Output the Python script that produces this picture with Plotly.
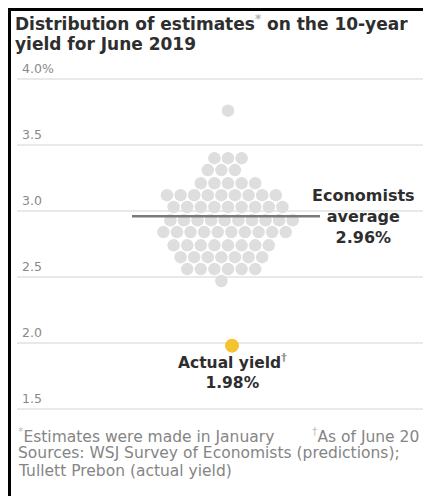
import plotly.graph_objects as go

# ---------------- data ----------------
estimates = [
    3.76,
    3.40, 3.40, 3.40,
    3.31, 3.31, 3.31,
    3.21, 3.21, 3.21, 3.21, 3.21,
    3.12, 3.12, 3.12, 3.12, 3.12, 3.12, 3.12, 3.12, 3.12,
    3.03, 3.03, 3.03, 3.03, 3.03, 3.03, 3.03, 3.03, 3.03,
    2.93, 2.93, 2.93, 2.93, 2.93, 2.93, 2.93, 2.93, 2.93, 2.93,
    2.84, 2.84, 2.84, 2.84, 2.84, 2.84, 2.84, 2.84, 2.84, 2.84,
    2.74, 2.74, 2.74, 2.74, 2.74, 2.74, 2.74, 2.74,
    2.65, 2.65, 2.65, 2.65, 2.65, 2.65, 2.65,
    2.56, 2.56, 2.56, 2.56, 2.56, 2.56,
    2.47,
]
economists_average = 2.96
actual_yield = 1.98
tick_values = [1.5, 2.0, 2.5, 3.0, 3.5, 4.0]
tick_labels = ["1.5", "2.0", "2.5", "3.0", "3.5", "4.0%"]

title_lines = ["<b>Distribution of estimates<span style='color:#b5b5b5'><sup>*</sup></span>"
               " on the 10-year</b>",
               "<b>yield for June 2019</b>"]
avg_text = "<b>Economists<br>average<br>{:.2f}%</b>".format(economists_average)
actual_text = ("<b>Actual yield<span style='color:#999'><sup>†</sup></span><br>"
               "{:.2f}%</b>").format(actual_yield)
note_left = "<span style='color:#c0c0c0'><sup>*</sup></span>Estimates were made in January"
note_right = "<span style='color:#c0c0c0'><sup>†</sup></span>As of June 20"
note_lines = ["Sources: WSJ Survey of Economists (predictions);",
              "Tullett Prebon (actual yield)"]

# ---------------- layout constants ----------------
W, H = 423, 496
FONT = "DejaVu Sans"
Y_LO, Y_HI = 1.45, 4.05
PX_TOP_4, PX_BOT_15 = 79.0, 409.0          # pixel rows of 4.0 and 1.5
ppu = (PX_BOT_15 - PX_TOP_4) / (4.0 - 1.5)  # pixels per percentage point
px_hi = PX_TOP_4 - (Y_HI - 4.0) * ppu
px_lo = PX_BOT_15 + (1.5 - Y_LO) * ppu
X_LEFT, CENTER = 17.0, 228.0
DOT = 12.5
SEP = 13.6
NOTE_Y0, NOTE_DY = 435, 18


def swarm(values):
    """greedy beeswarm: place each dot as close to the centre as possible"""
    placed, xs = [], []
    for v in values:
        y = v * ppu
        cands = [0.0]
        for px, py in placed:
            dy = abs(py - y)
            if dy < SEP:
                dx = (SEP * SEP - dy * dy) ** 0.5
                cands += [px - dx, px + dx]
        cands.sort(key=lambda c: (round(abs(c), 6), c))
        for c in cands:
            if all((c - px) ** 2 + (y - py) ** 2 >= SEP * SEP - 1e-6 for px, py in placed):
                break
        placed.append((c, y))
        xs.append(c)
    return xs


xs = swarm(estimates)

fig = go.Figure()
fig.add_trace(go.Scatter(
    x=xs, y=estimates, mode="markers",
    marker=dict(size=DOT, color="#dedede", line=dict(width=0)),
    hoverinfo="skip", showlegend=False))
fig.add_trace(go.Scatter(
    x=[4], y=[actual_yield], mode="markers",
    marker=dict(size=DOT + 1.5, color="#f4c430", line=dict(width=0)),
    hoverinfo="skip", showlegend=False))

# average line
fig.add_shape(type="line", xref="x", yref="y", x0=-96, x1=92,
              y0=economists_average, y1=economists_average,
              line=dict(color="#7a7a7a", width=2.5), layer="above")

# border (left + top)
fig.add_shape(type="line", xref="paper", yref="paper",
              x0=9.5 / W, x1=9.5 / W, y0=0, y1=1 - 8 / H,
              line=dict(color="#000", width=3))
fig.add_shape(type="line", xref="paper", yref="paper",
              x0=8 / W, x1=1, y0=1 - 9.5 / H, y1=1 - 9.5 / H,
              line=dict(color="#000", width=3))

ann = []
for v, t in zip(tick_values, tick_labels):
    ann.append(dict(x=20 / W, xref="paper", y=v, yref="y", text=t, showarrow=False,
                    xanchor="left", yanchor="bottom", yshift=1,
                    font=dict(family=FONT, size=12.5, color="#8a8a8a")))
for i, t in enumerate(title_lines):
    ann.append(dict(x=13 / W, xref="paper", y=1 - (23 + 21 * i) / H, yref="paper", text=t,
                    showarrow=False, xanchor="left", yanchor="middle", align="left",
                    font=dict(family=FONT, size=17, color="#2e2e2e")))
ann.append(dict(x=363 / W, xref="paper", y=economists_average, yref="y", text=avg_text,
                showarrow=False, xanchor="center", yanchor="middle", align="center",
                font=dict(family=FONT, size=16, color="#2e2e2e")))
ann.append(dict(x=4, xref="x", y=actual_yield, yref="y", text=actual_text,
                showarrow=False, xanchor="center", yanchor="top", align="center",
                yshift=-3, font=dict(family=FONT, size=15.5, color="#2e2e2e")))
note_font = dict(family=FONT, size=15.5, color="#858585")
ann.append(dict(x=16 / W, xref="paper", y=1 - NOTE_Y0 / H, yref="paper", text=note_left,
                showarrow=False, xanchor="left", yanchor="middle", font=note_font))
ann.append(dict(x=421 / W, xref="paper", y=1 - NOTE_Y0 / H, yref="paper", text=note_right,
                showarrow=False, xanchor="right", yanchor="middle", font=note_font))
for i, t in enumerate(note_lines):
    ann.append(dict(x=16 / W, xref="paper", y=1 - (NOTE_Y0 + NOTE_DY * (i + 1)) / H,
                    yref="paper", text=t, showarrow=False, xanchor="left",
                    yanchor="middle", align="left", font=note_font))

fig.update_layout(
    width=W, height=H, margin=dict(l=0, r=0, t=0, b=0),
    paper_bgcolor="white", plot_bgcolor="white",
    annotations=ann, hovermode=False,
    xaxis=dict(domain=[X_LEFT / W, 1], range=[X_LEFT - CENTER, W - CENTER],
               showgrid=False, zeroline=False, showticklabels=False, fixedrange=True),
    yaxis=dict(domain=[(H - px_lo) / H, (H - px_hi) / H], range=[Y_LO, Y_HI],
               tickvals=tick_values, showticklabels=False, showgrid=True,
               gridcolor="#e9e9e9", gridwidth=1.5, zeroline=False, fixedrange=True),
)

fig.write_html("out.html", config={"displayModeBar": False})
